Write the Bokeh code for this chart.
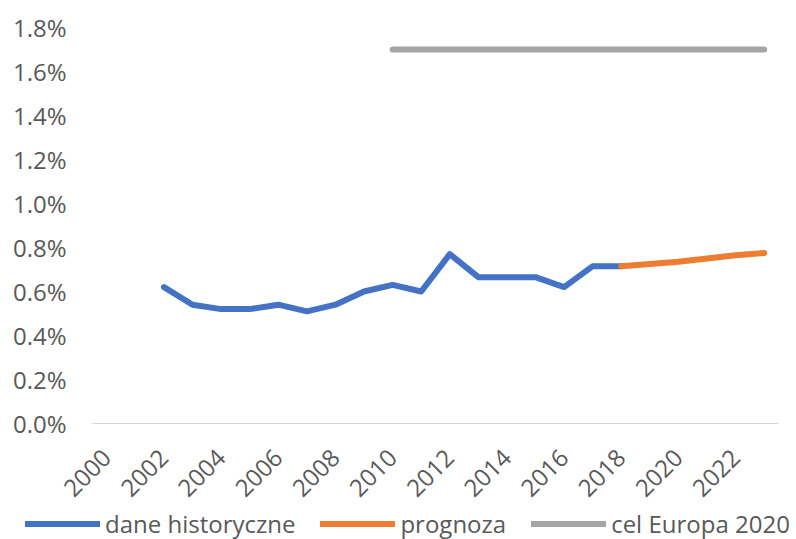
from bokeh.plotting import figure
from bokeh.models import Range1d, FixedTicker, PrintfTickFormatter, Legend, LegendItem
from bokeh.embed import file_html
from bokeh.resources import INLINE

hist_years = list(range(2002, 2019))
hist_vals = [0.62, 0.54, 0.52, 0.52, 0.54, 0.51, 0.54, 0.60, 0.63, 0.60, 0.77,
             0.665, 0.665, 0.665, 0.62, 0.715, 0.715]
fc_years = [2018, 2019, 2020, 2021, 2022, 2023]
fc_vals = [0.715, 0.725, 0.735, 0.75, 0.765, 0.775]
target_years = list(range(2010, 2024))
target_vals = [1.7] * len(target_years)
x_ticks = list(range(2000, 2023, 2))
y_ticks = [0.0, 0.2, 0.4, 0.6, 0.8, 1.0, 1.2, 1.4, 1.6, 1.8]
series_names = ["dane historyczne", "prognoza", "cel Europa 2020"]
series_colors = ["#4472C4", "#ED7D31", "#A5A5A5"]

FONT = "Open Sans"
TXT = "#595959"
FS = "24px"

p = figure(width=796, height=507, output_backend="svg", toolbar_location=None,
           x_range=Range1d(1999.5, 2023.5), y_range=Range1d(0, 1.8),
           min_border_left=92, min_border_right=18, min_border_top=27, min_border_bottom=82)
p.outline_line_color = None
p.xgrid.visible = False
p.ygrid.visible = False

series = [(hist_years, hist_vals), (fc_years, fc_vals), (target_years, target_vals)]
for (xs, ys), col in zip(series, series_colors):
    p.line(xs, ys, line_color=col, line_width=6, line_cap="round", line_join="round")

p.yaxis.ticker = FixedTicker(ticks=y_ticks)
p.yaxis.formatter = PrintfTickFormatter(format="%.1f%%")
p.yaxis.axis_line_color = None
p.yaxis.major_tick_line_color = None
p.yaxis.minor_tick_line_color = None
p.yaxis.major_label_standoff = 20
p.yaxis.major_label_text_font = FONT
p.yaxis.major_label_text_font_size = FS
p.yaxis.major_label_text_color = TXT

p.xaxis.ticker = FixedTicker(ticks=x_ticks)
p.xaxis.axis_line_color = "#D9D9D9"
p.xaxis.axis_line_width = 1
p.xaxis.major_tick_line_color = None
p.xaxis.minor_tick_line_color = None
p.xaxis.major_label_orientation = 0.785398
p.xaxis.major_label_standoff = 24
p.xaxis.major_label_text_font = FONT
p.xaxis.major_label_text_font_size = FS
p.xaxis.major_label_text_color = TXT

# legend strip (separate root so its frame is not aligned with the chart's)
lg = figure(width=796, height=32, output_backend="svg", toolbar_location=None,
            x_axis_type=None, y_axis_type=None, x_range=Range1d(0, 1), y_range=Range1d(0, 1),
            min_border=0)
lg.outline_line_color = None
lg.xgrid.visible = False
lg.ygrid.visible = False
items = []
for (xs, ys), name, col in zip(series, series_names, series_colors):
    r = lg.line(xs, ys, line_color=col, line_width=6, line_cap="round")
    items.append(LegendItem(label=name, renderers=[r]))
legend = Legend(items=items, location="center_left", orientation="horizontal",
                glyph_width=75, glyph_height=20, label_standoff=5, spacing=25,
                padding=0, margin=25, border_line_color=None, background_fill_alpha=0,
                label_text_font=FONT, label_text_font_size=FS, label_text_color=TXT)
lg.add_layout(legend)

open("out.html", "w").write(file_html([p, lg], INLINE))
